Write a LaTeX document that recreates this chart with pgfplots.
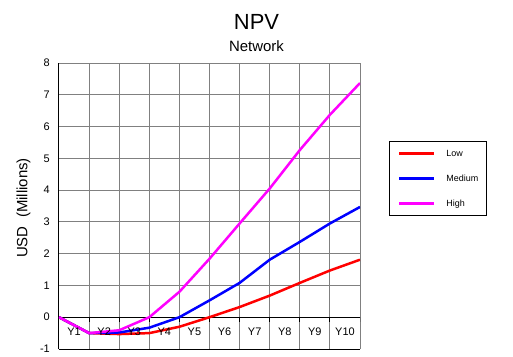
\documentclass[border=0pt]{standalone}
\usepackage{pgfplots}
\pgfplotsset{compat=1.18}
\usepackage{fontspec}
\setmainfont{Liberation Sans}
\definecolor{mag}{RGB}{255,0,255}
\definecolor{rd}{RGB}{255,0,0}
\definecolor{bl}{RGB}{0,0,255}
\definecolor{gr}{RGB}{128,128,128}
\begin{document}
\begin{tikzpicture}
\useasboundingbox (0,0) rectangle (513bp,357bp);
\begin{axis}[
  at={(59bp,8bp)}, anchor=south west,
  scale only axis, width=301bp, height=286bp,
  xmin=0, xmax=10, ymin=-1, ymax=8,
  xtick={0,...,10}, xticklabels={},
  ytick={-1,0,...,8},
  /pgf/number format/assume math mode=true,
  yticklabel style={font=\fontsize{11}{13}\selectfont, inner sep=0pt, xshift=-9bp},
  major tick length=0pt,
  axis lines*=left,
  axis line style={black, line width=1bp},
  grid=major,
  major grid style={gr, line width=1bp},
  legend style={at={(1.0963,0.7273)}, anchor=north west, draw=black, line width=1bp,
    font=\fontsize{9}{11}\selectfont, inner xsep=8.5bp, inner ysep=7.5bp, row sep=16bp,
    column sep=11bp,
    nodes={inner sep=0pt, text height=7bp, text depth=2bp, anchor=west}},
  legend cell align=left,
  legend image code/.code={\draw[#1, line width=2.5bp] (0bp,0bp) -- (35bp,0bp);},
]
\draw[black, line width=1bp] (axis cs:0,0) -- (axis cs:10,0);
\draw[black, line width=1bp]
  (axis cs:1,0) -- ([yshift=-5bp]axis cs:1,0) (axis cs:2,0) -- ([yshift=-5bp]axis cs:2,0)
  (axis cs:3,0) -- ([yshift=-5bp]axis cs:3,0) (axis cs:4,0) -- ([yshift=-5bp]axis cs:4,0)
  (axis cs:5,0) -- ([yshift=-5bp]axis cs:5,0) (axis cs:6,0) -- ([yshift=-5bp]axis cs:6,0)
  (axis cs:7,0) -- ([yshift=-5bp]axis cs:7,0) (axis cs:8,0) -- ([yshift=-5bp]axis cs:8,0)
  (axis cs:9,0) -- ([yshift=-5bp]axis cs:9,0) (axis cs:10,0) -- ([yshift=-5bp]axis cs:10,0);
\addplot[rd, line width=2.5bp, no markers] coordinates {(0,0)(1,-0.5)(2,-0.53)(3,-0.5)(4,-0.3)(5,0)(6,0.32)(7,0.68)(8,1.08)(9,1.47)(10,1.81)};
\addlegendentry{Low}
\addplot[bl, line width=2.5bp, no markers] coordinates {(0,0)(1,-0.5)(2,-0.48)(3,-0.33)(4,0)(5,0.53)(6,1.08)(7,1.81)(8,2.37)(9,2.95)(10,3.47)};
\addlegendentry{Medium}
\addplot[mag, line width=2.5bp, no markers] coordinates {(0,0)(1,-0.5)(2,-0.41)(3,0)(4,0.8)(5,1.84)(6,2.95)(7,4.05)(8,5.26)(9,6.37)(10,7.37)};
\addlegendentry{High}
\node[anchor=base, font=\fontsize{11}{13}\selectfont] at ([yshift=-18bp]axis cs:0.5,0) {Y1};
\node[anchor=base, font=\fontsize{11}{13}\selectfont] at ([yshift=-18bp]axis cs:1.5,0) {Y2};
\node[anchor=base, font=\fontsize{11}{13}\selectfont] at ([yshift=-18bp]axis cs:2.5,0) {Y3};
\node[anchor=base, font=\fontsize{11}{13}\selectfont] at ([yshift=-18bp]axis cs:3.5,0) {Y4};
\node[anchor=base, font=\fontsize{11}{13}\selectfont] at ([yshift=-18bp]axis cs:4.5,0) {Y5};
\node[anchor=base, font=\fontsize{11}{13}\selectfont] at ([yshift=-18bp]axis cs:5.5,0) {Y6};
\node[anchor=base, font=\fontsize{11}{13}\selectfont] at ([yshift=-18bp]axis cs:6.5,0) {Y7};
\node[anchor=base, font=\fontsize{11}{13}\selectfont] at ([yshift=-18bp]axis cs:7.5,0) {Y8};
\node[anchor=base, font=\fontsize{11}{13}\selectfont] at ([yshift=-18bp]axis cs:8.5,0) {Y9};
\node[anchor=base, font=\fontsize{11}{13}\selectfont] at ([yshift=-18bp]axis cs:9.5,0) {Y10};
\end{axis}
\node[anchor=base, font=\fontsize{22}{26}\selectfont] at (256.5bp,327bp) {NPV};
\node[anchor=base, font=\fontsize{15}{18}\selectfont] at (256.5bp,305.3bp) {Network};
\node[rotate=90, font=\fontsize{15}{18}\selectfont] at (23.5bp,149bp) {USD\ \ (Millions)};
\end{tikzpicture}
\end{document}
